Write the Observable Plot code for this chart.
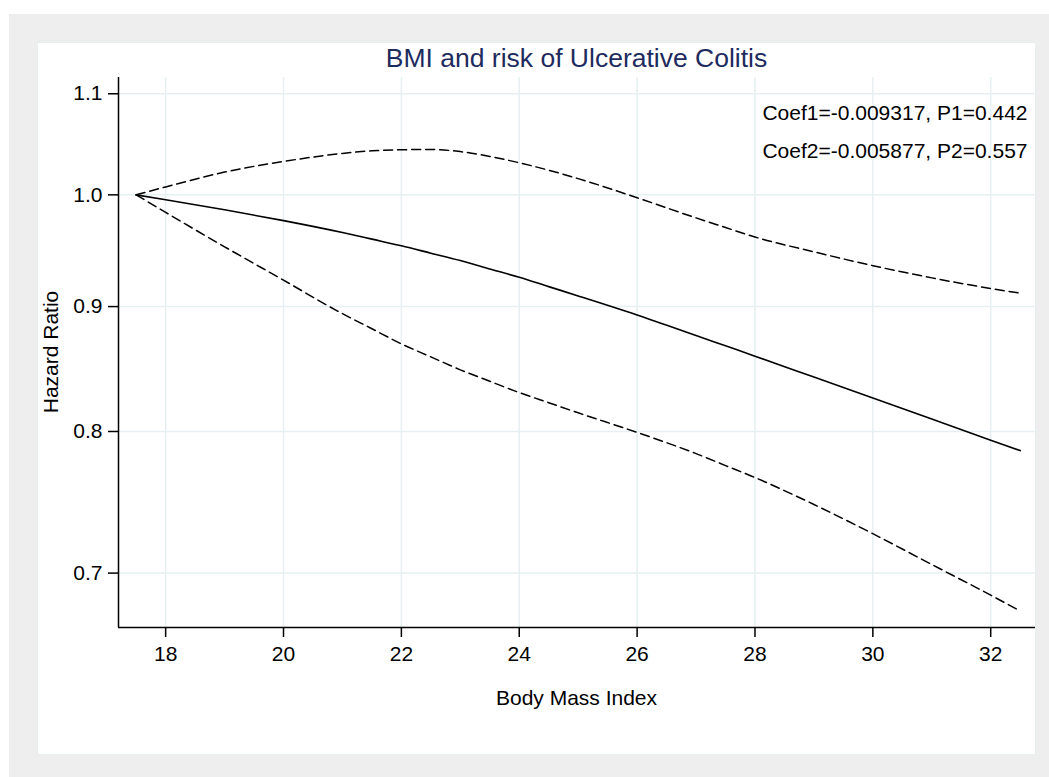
<!DOCTYPE html>
<html>
<head>
<meta charset="utf-8">
<script src="https://cdn.jsdelivr.net/npm/d3@7"></script>
<script src="https://cdn.jsdelivr.net/npm/@observablehq/plot@0.6"></script>
<style>
  html, body { margin: 0; padding: 0; background: #ffffff; }
  body { width: 1049px; height: 777px; position: relative; overflow: hidden;
         font-family: "Liberation Sans", Arial, Helvetica, sans-serif; }
  #graphregion { position: absolute; left: 9px; top: 14px; width: 1040px; height: 763px; background: #eeeeee; }
  #panel { position: absolute; left: 38px; top: 43px; width: 997px; height: 711px; background: #ffffff;
           box-shadow: 0 0 0 1px #e6eef0; }
  #chart { position: absolute; left: 0; top: 0; }
  .title { position: absolute; left: 80px; width: 917px; top: 0px; text-align: center;
           font-size: 26.5px; color: #1e2b5e; line-height: 30px; }
  .xlabel { position: absolute; left: 80px; width: 917px; top: 643px; text-align: center;
            font-size: 21px; color: #000; line-height: 24px; }
  .ylabel { position: absolute; left: 3px; top: 309px; width: 0; height: 0; }
  .ylabel span { position: absolute; transform: translate(-50%, -50%) rotate(-90deg);
                 left: 10px; top: 0; white-space: nowrap; font-size: 21px; color: #000; }
</style>
</head>
<body>
<div id="graphregion"></div>
<div id="panel">
  <div id="chart"></div>
  <div class="title">BMI and risk of Ulcerative Colitis</div>
  <div class="xlabel">Body Mass Index</div>
  <div class="ylabel"><span>Hazard Ratio</span></div>
</div>
<script>
// Body mass index grid at which the spline fit is evaluated
const bmi = [17.5, 18, 19, 20, 21, 21.5, 22, 22.5, 23, 23.5, 24, 24.5, 25, 26, 27, 27.5, 28, 29, 30, 31, 32, 32.5];

// Hazard ratio (reference BMI 17.5) and its 95% confidence band
const hazard = [1.000, 0.9954, 0.9860, 0.9760, 0.9651, 0.9591, 0.9531, 0.9465, 0.9399, 0.9325, 0.9252, 0.9171, 0.9091, 0.8929, 0.8758, 0.8673, 0.8589, 0.8421, 0.8256, 0.8094, 0.7935, 0.7857];
const upper  = [1.000, 1.0075, 1.0217, 1.0320, 1.0398, 1.0424, 1.0434, 1.0437, 1.0416, 1.0369, 1.0307, 1.0235, 1.0154, 0.9973, 0.9785, 0.9697, 0.9610, 0.9477, 0.9354, 0.9247, 0.9155, 0.9115];
const lower  = [1.000, 0.9836, 0.9522, 0.9227, 0.8940, 0.8814, 0.8689, 0.8583, 0.8479, 0.8388, 0.8299, 0.8220, 0.8142, 0.7993, 0.7835, 0.7747, 0.7660, 0.7468, 0.7265, 0.7057, 0.6856, 0.6754];

// Axis settings
const xDomain = [17.2, 32.76];
const yDomain = [0.665, 1.117];
const xTicks = [18, 20, 22, 24, 26, 28, 30, 32];
const yTicks = [0.7, 0.8, 0.9, 1.0, 1.1];

// Model statistics shown in the corner
const notes = ["Coef1=-0.009317, P1=0.442", "Coef2=-0.005877, P2=0.557"];

const rows = bmi.map((x, i) => ({x, hr: hazard[i], lo: lower[i], hi: upper[i]}));

const gridColor = "#e6eff1";
const fontFamily = "'Liberation Sans', Arial, Helvetica, sans-serif";

const chart = Plot.plot({
  width: 997,
  height: 711,
  marginLeft: 80,
  marginRight: 0,
  marginTop: 34,
  marginBottom: 127,
  style: {fontSize: "21px", fontFamily, background: "transparent", color: "#000", overflow: "visible"},
  x: {domain: xDomain, ticks: xTicks, label: null},
  y: {type: "log", domain: yDomain, ticks: yTicks, label: null},
  marks: [
    Plot.gridX(xTicks, {stroke: gridColor, strokeOpacity: 1, strokeWidth: 1.5}),
    Plot.gridY(yTicks, {stroke: gridColor, strokeOpacity: 1, strokeWidth: 1.5}),
    Plot.ruleX([xDomain[0]], {stroke: "#000", strokeWidth: 1.5}),
    Plot.ruleY([yDomain[0]], {stroke: "#000", strokeWidth: 1.5}),
    Plot.axisX(xTicks, {tickSize: 10, tickPadding: 9, stroke: "#000", strokeWidth: 1.5, fill: "#000", label: null, tickFormat: d => String(d)}),
    Plot.axisY(yTicks, {tickSize: 10, tickPadding: 6, stroke: "#000", strokeWidth: 1.5, fill: "#000", label: null, tickFormat: d3.format(".1f")}),
    Plot.line(rows, {x: "x", y: "hi", stroke: "#000", strokeWidth: 1.5, strokeDasharray: "9,5", curve: "monotone-x"}),
    Plot.line(rows, {x: "x", y: "lo", stroke: "#000", strokeWidth: 1.5, strokeDasharray: "9,5", curve: "monotone-x"}),
    Plot.line(rows, {x: "x", y: "hr", stroke: "#000", strokeWidth: 1.6, curve: "monotone-x"}),
    Plot.text([notes[0]], {text: d => d, frameAnchor: "top-right", textAnchor: "end", lineAnchor: "bottom", dx: -8, dy: 42, fill: "#000"}),
    Plot.text([notes[1]], {text: d => d, frameAnchor: "top-right", textAnchor: "end", lineAnchor: "bottom", dx: -8, dy: 80, fill: "#000"})
  ]
});

document.getElementById("chart").appendChild(chart);
</script>
</body>
</html>
